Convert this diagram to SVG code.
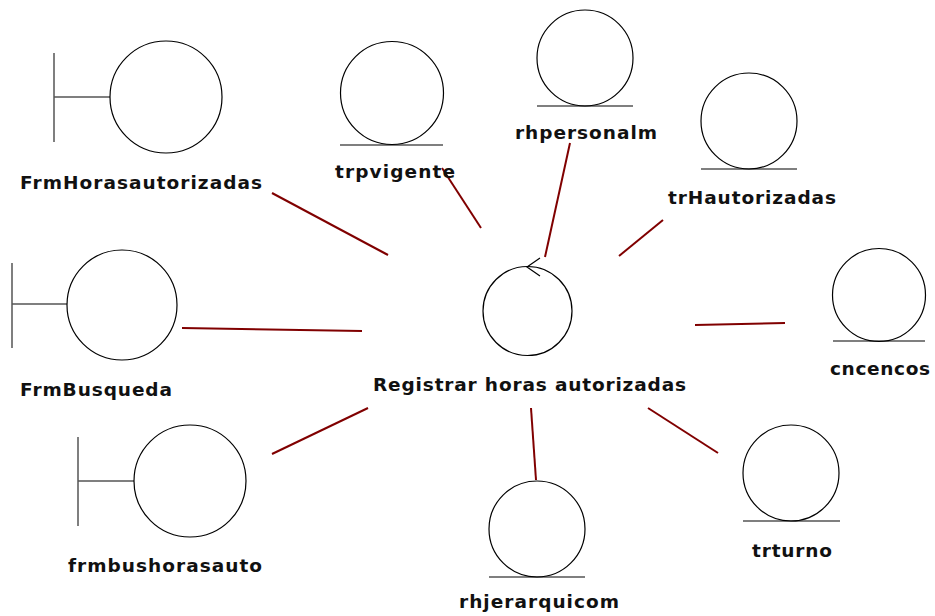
<svg xmlns="http://www.w3.org/2000/svg" width="935" height="616" viewBox="0 0 935 616">
<style>
.c{fill:#fff;stroke:#000;stroke-width:1.2}
.b{stroke:#555;stroke-width:1.5;fill:none}
.u{stroke:#000;stroke-width:1.2}
.t{font-family:"DejaVu Sans",Verdana,sans-serif;font-weight:bold;font-size:18.5px;fill:#111}
.k{stroke:#800000;stroke-width:2;fill:none}
</style>
<rect width="935" height="616" fill="#fff"/>
<g id="connectors">
<line class="k" x1="272" y1="193" x2="388" y2="255"/>
<line class="k" x1="442" y1="168" x2="481" y2="228"/>
<line class="k" x1="570" y1="143" x2="545" y2="257"/>
<line class="k" x1="663" y1="220" x2="619" y2="256"/>
<line class="k" x1="182" y1="328" x2="362" y2="331"/>
<line class="k" x1="695" y1="325" x2="785" y2="323"/>
<line class="k" x1="368" y1="408" x2="272" y2="454"/>
<line class="k" x1="531" y1="408" x2="536" y2="480"/>
<line class="k" x1="648" y1="408" x2="718" y2="453"/>
</g>
<g id="FrmHorasautorizadas">
<line class="b" x1="54" y1="53" x2="54" y2="142"/>
<line class="b" x1="54" y1="97" x2="110" y2="97"/>
<circle class="c" cx="166" cy="97" r="56"/>
<text class="t" x="20" y="189" textLength="242" lengthAdjust="spacing">FrmHorasautorizadas</text>
</g>
<g id="trpvigente">
<circle class="c" cx="392" cy="93" r="51.5"/>
<line class="u" x1="340" y1="145" x2="443" y2="145"/>
<text class="t" x="335" y="178" textLength="120" lengthAdjust="spacing">trpvigente</text>
</g>
<g id="rhpersonalm">
<circle class="c" cx="585" cy="58" r="48"/>
<line class="u" x1="537" y1="106" x2="633" y2="106"/>
<text class="t" x="515" y="139" textLength="142" lengthAdjust="spacing">rhpersonalm</text>
</g>
<g id="trHautorizadas">
<circle class="c" cx="749" cy="121" r="48"/>
<line class="u" x1="701" y1="169" x2="797" y2="169"/>
<text class="t" x="668" y="204" textLength="168" lengthAdjust="spacing">trHautorizadas</text>
</g>
<g id="FrmBusqueda">
<line class="b" x1="12" y1="263" x2="12" y2="348"/>
<line class="b" x1="12" y1="304" x2="67" y2="304"/>
<circle class="c" cx="122" cy="305" r="55"/>
<text class="t" x="20" y="396" textLength="152" lengthAdjust="spacing">FrmBusqueda</text>
</g>
<g id="RegistrarHorasAutorizadas">
<circle class="c" cx="527.5" cy="311" r="44.5"/>
<polyline class="u" fill="none" points="540,258 527,267 540,276"/>
<text class="t" x="373" y="391" textLength="313" lengthAdjust="spacing">Registrar horas autorizadas</text>
</g>
<g id="cncencos">
<circle class="c" cx="879" cy="295" r="46.5"/>
<line class="u" x1="833" y1="341" x2="925" y2="341"/>
<text class="t" x="830" y="375" textLength="100" lengthAdjust="spacing">cncencos</text>
</g>
<g id="frmbushorasauto">
<line class="b" x1="78" y1="437" x2="78" y2="526"/>
<line class="b" x1="78" y1="481" x2="134" y2="481"/>
<circle class="c" cx="190" cy="481" r="56"/>
<text class="t" x="68" y="572" textLength="194" lengthAdjust="spacing">frmbushorasauto</text>
</g>
<g id="rhjerarquicom">
<circle class="c" cx="537" cy="529" r="48"/>
<line class="u" x1="489" y1="577" x2="585" y2="577"/>
<text class="t" x="459" y="608" textLength="160" lengthAdjust="spacing">rhjerarquicom</text>
</g>
<g id="trturno">
<circle class="c" cx="791" cy="473" r="48"/>
<line class="u" x1="743" y1="521" x2="840" y2="521"/>
<text class="t" x="752" y="557" textLength="80" lengthAdjust="spacing">trturno</text>
</g>
</svg>
